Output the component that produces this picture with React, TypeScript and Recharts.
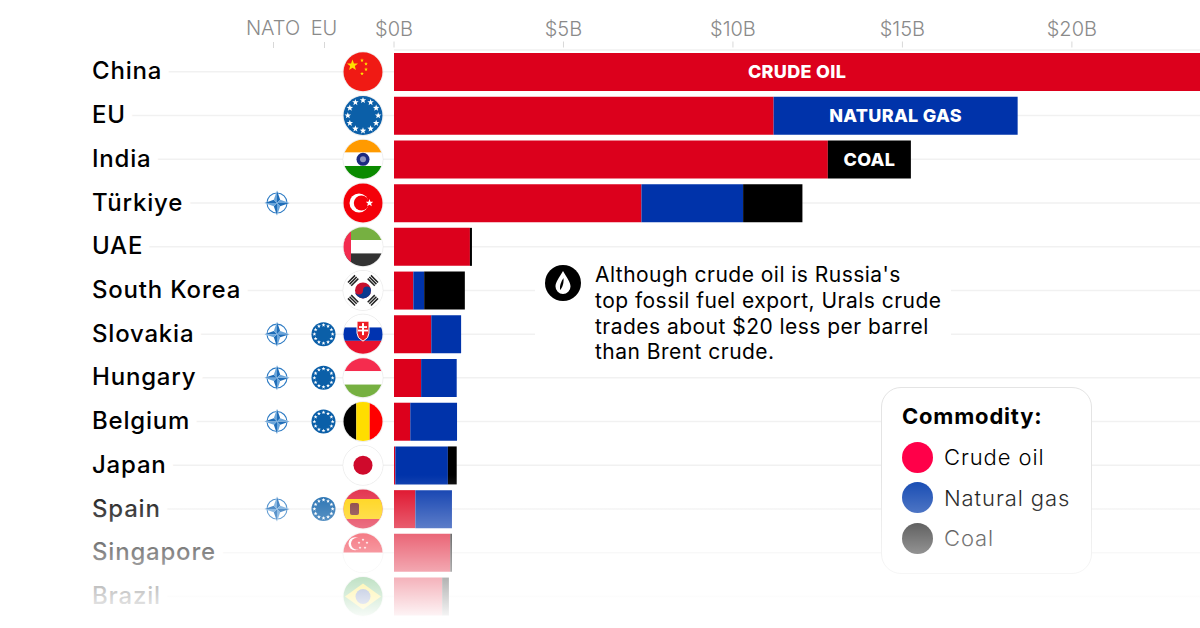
import React from 'react';
import { BarChart, Bar, XAxis, YAxis, CartesianGrid, LabelList, Legend } from 'recharts';

const countries = ['China', 'EU', 'India', 'Türkiye', 'UAE', 'South Korea', 'Slovakia', 'Hungary', 'Belgium', 'Japan', 'Spain', 'Singapore', 'Brazil', ''];
const crude = [23.9, 11.2, 12.8, 7.3, 2.24, 0.57, 1.1, 0.8, 0.48, 0.04, 0.63, 1.66, 1.42, 1.55];
const gas = [0, 7.2, 0, 3.0, 0, 0.32, 0.88, 1.05, 1.38, 1.55, 1.08, 0, 0, 0];
const coal = [0, 0, 2.45, 1.75, 0.06, 1.2, 0, 0, 0, 0.26, 0, 0.05, 0.2, 0];
const crudeLabels = ['CRUDE OIL'];
const gasLabels = ['', 'NATURAL GAS'];
const coalLabels = ['', '', 'COAL'];
const natoMembers = ['Türkiye', 'Slovakia', 'Hungary', 'Belgium', 'Spain'];
const euMembers = ['Slovakia', 'Hungary', 'Belgium', 'Spain'];
const xTicks = [0, 5, 10, 15, 20];
const legendNames = ['Crude oil', 'Natural gas', 'Coal'];
const legendColors = ['#ff0049', '#0f45b0', '#151515'];

const rows = countries.map((name, i) => ({
  name,
  crude: crude[i],
  gas: gas[i],
  coal: coal[i],
  crudeLabel: crudeLabels[i] || undefined,
  gasLabel: gasLabels[i] || undefined,
  coalLabel: coalLabels[i] || undefined,
}));

const FONT = 'Inter, sans-serif';

const starPoints = (cx: number, cy: number, r: number) => {
  const pts = [];
  for (let i = 0; i < 10; i++) {
    const a = -Math.PI / 2 + (i * Math.PI) / 5;
    const rad = i % 2 === 0 ? r : r * 0.42;
    pts.push(`${cx + rad * Math.cos(a)},${cy + rad * Math.sin(a)}`);
  }
  return pts.join(' ');
};

const EuCircle = ({ r }: { r: number }) => (
  <g>
    <circle r={r} fill="#0b5fa8" />
    {Array.from({ length: 12 }).map((_, i) => {
      const a = (i * Math.PI) / 6;
      return <polygon key={i} points={starPoints(r * 0.76 * Math.cos(a), r * 0.76 * Math.sin(a), r * 0.17)} fill="#fff" />;
    })}
  </g>
);

const NatoIcon = () => (
  <g>
    <circle r={10} fill="none" stroke="#2f7cc4" strokeWidth={1.1} />
    <polygon points="0,-12.5 3.4,-3.4 12.5,0 3.4,3.4 0,12.5 -3.4,3.4 -12.5,0 -3.4,-3.4" fill="#fff" />
    <polygon points="0,-12.5 3.2,-3.2 0,0" fill="#1f6db8" />
    <polygon points="12.5,0 3.2,3.2 0,0" fill="#1f6db8" />
    <polygon points="0,12.5 -3.2,3.2 0,0" fill="#1f6db8" />
    <polygon points="-12.5,0 -3.2,-3.2 0,0" fill="#1f6db8" />
    <polygon points="0,-12.5 -3.2,-3.2 0,0" fill="#6aa5da" />
    <polygon points="12.5,0 3.2,-3.2 0,0" fill="#6aa5da" />
    <polygon points="0,12.5 3.2,3.2 0,0" fill="#6aa5da" />
    <polygon points="-12.5,0 -3.2,3.2 0,0" fill="#6aa5da" />
  </g>
);

const flagBody = (name: string) => {
  const R = 20;
  const band = (y: number, h: number, fill: string) => <rect x={-R} y={y} width={R * 2} height={h} fill={fill} />;
  switch (name) {
    case 'China':
      return (
        <g>
          {band(-R, R * 2, '#f01a14')}
          <polygon points={starPoints(-10.5, -6.5, 5.8)} fill="#ffe000" />
          <polygon points={starPoints(-1, -11.5, 2)} fill="#ffe000" />
          <polygon points={starPoints(3, -8, 2)} fill="#ffe000" />
          <polygon points={starPoints(3, -2.5, 2)} fill="#ffe000" />
          <polygon points={starPoints(-1, 1.8, 2)} fill="#ffe000" />
        </g>
      );
    case 'EU':
      return <EuCircle r={R} />;
    case 'India':
      return (
        <g>
          {band(-R, 13.3, '#ff9a00')}
          {band(-6.7, 13.4, '#fff')}
          {band(6.7, 13.3, '#0a8a00')}
          <circle r={6.5} fill="#1c2a80" />
          <circle r={3} fill="#fff" opacity={0.5} />
        </g>
      );
    case 'Türkiye':
      return (
        <g>
          {band(-R, R * 2, '#f40009')}
          <circle cx={-4} r={9.5} fill="#fff" />
          <circle cx={-1.6} r={7.6} fill="#f40009" />
          <polygon points={starPoints(6.5, 0, 4)} fill="#fff" />
        </g>
      );
    case 'UAE':
      return (
        <g>
          {band(-R, 13.3, '#76b041')}
          {band(-6.7, 13.4, '#fff')}
          {band(6.7, 13.3, '#333')}
          <rect x={-R} y={-R} width={8} height={R * 2} fill="#f32b4f" />
        </g>
      );
    case 'South Korea':
      return (
        <g>
          {band(-R, R * 2, '#fff')}
          <circle r={8} fill="#c8102e" />
          <path d="M-8,0 A8,8 0 0,0 8,0 A4,4 0 0,0 0,0 A4,4 0 0,1 -8,0Z" fill="#0b3a8f" />
          {[45, 135, 225, 315].map((a) => (
            <g key={a} transform={`rotate(${a}) translate(0,-14)`}>
              <rect x={-5} y={-3} width={10} height={1.5} fill="#222" />
              <rect x={-5} y={-0.7} width={10} height={1.5} fill="#222" />
              <rect x={-5} y={1.6} width={10} height={1.5} fill="#222" />
            </g>
          ))}
        </g>
      );
    case 'Slovakia':
      return (
        <g>
          {band(-R, 13.3, '#fff')}
          {band(-6.7, 13.4, '#0033b0')}
          {band(6.7, 13.3, '#e8112d')}
          <path d="M-12,-10 L0,-10 L0,2 Q0,7 -6,10 Q-12,7 -12,2Z" transform="translate(6,-3)" fill="#ee1c25" stroke="#fff" strokeWidth={1} />
          <rect x={-1} y={-11} width={2} height={12} fill="#fff" />
          <rect x={-4} y={-8} width={8} height={1.8} fill="#fff" />
          <rect x={-5} y={-4.5} width={10} height={1.8} fill="#fff" />
        </g>
      );
    case 'Hungary':
      return (
        <g>
          {band(-R, 13.3, '#f52c4e')}
          {band(-6.7, 13.4, '#fff')}
          {band(6.7, 13.3, '#76b041')}
        </g>
      );
    case 'Belgium':
      return (
        <g>
          <rect x={-R} y={-R} width={13.3} height={R * 2} fill="#000" />
          <rect x={-6.7} y={-R} width={13.4} height={R * 2} fill="#ffdd00" />
          <rect x={6.7} y={-R} width={13.3} height={R * 2} fill="#ff0000" />
        </g>
      );
    case 'Japan':
      return (
        <g>
          {band(-R, R * 2, '#fff')}
          <circle r={9.5} fill="#cf0a2c" />
        </g>
      );
    case 'Spain':
      return (
        <g>
          {band(-R, R * 2, '#e01f3d')}
          {band(-10, 20, '#ffd000')}
          <rect x={-13} y={-6} width={9} height={12} rx={2} fill="#7a2a2a" />
        </g>
      );
    case 'Singapore':
      return (
        <g>
          {band(-R, R, '#ee2536')}
          {band(0, R, '#fff')}
          <circle cx={-8} cy={-9} r={6.5} fill="#fff" />
          <circle cx={-6} cy={-9} r={6} fill="#ee2536" />
          <polygon points={starPoints(0, -13, 1.5)} fill="#fff" />
          <polygon points={starPoints(4, -10, 1.5)} fill="#fff" />
          <polygon points={starPoints(2, -5, 1.5)} fill="#fff" />
          <polygon points={starPoints(-3, -5, 1.5)} fill="#fff" />
          <polygon points={starPoints(-4, -10, 1.5)} fill="#fff" />
        </g>
      );
    case 'Brazil':
      return (
        <g>
          {band(-R, R * 2, '#2f9e3f')}
          <polygon points="-18,0 0,-13 18,0 0,13" fill="#ffdf00" />
          <circle r={7.5} fill="#1c3f94" />
        </g>
      );
    default:
      return band(-R, R * 2, '#ddd');
  }
};

const CountryTick = (props: any) => {
  const { y, payload } = props;
  const name = payload.value as string;
  const flagX = 363;
  const clipId = `flag-${countries.indexOf(name)}`;
  return (
    <g>
      <line x1={92} x2={394} y1={y} y2={y} stroke="#f1f1f1" strokeWidth={1.5} />
      <text
        x={92}
        y={y - 1}
        dominantBaseline="central"
        fontFamily={FONT}
        fontSize={24}
        fontWeight={500}
        letterSpacing={0.8}
        fill="#000"
        stroke="#fff"
        strokeWidth={18}
        strokeLinejoin="round"
        paintOrder="stroke"
      >
        {name}
      </text>
      {natoMembers.includes(name) && (
        <g transform={`translate(277,${y})`}>
          <NatoIcon />
        </g>
      )}
      {euMembers.includes(name) && (
        <g transform={`translate(323.5,${y})`}>
          <EuCircle r={12} />
        </g>
      )}
      <g transform={`translate(${flagX},${y})`}>
        <circle r={20} fill="#fff" stroke="#e9e9e9" strokeWidth={0.8} />
        <clipPath id={clipId}>
          <circle r={19.5} />
        </clipPath>
        <g clipPath={`url(#${clipId})`}>{flagBody(name)}</g>
      </g>
    </g>
  );
};

const MoneyTick = (props: any) => {
  const { x, payload } = props;
  return (
    <g>
      <line x1={x} x2={x} y1={41.5} y2={47.5} stroke="#d8d8d8" strokeWidth={1} />
      <text x={x} y={36} textAnchor="middle" fontFamily={FONT} fontSize={20} fontWeight={300} fill="#8a8a8a">
        {`$${payload.value}B`}
      </text>
    </g>
  );
};

const CommodityLegend = () => (
  <div
    style={{
      boxSizing: 'border-box',
      width: 211,
      height: 187,
      border: '1.5px solid #e4e4e4',
      borderRadius: 20,
      background: '#fff',
      padding: '14px 0 0 20px',
      fontFamily: FONT,
      textAlign: 'left',
    }}
  >
    <div style={{ fontSize: 22, fontWeight: 700, color: '#000', lineHeight: '28px', marginBottom: 7, letterSpacing: 0.8 }}>Commodity:</div>
    {legendNames.map((n, i) => (
      <div key={n} style={{ display: 'flex', alignItems: 'center', height: 40.5 }}>
        <span style={{ width: 31, height: 31, borderRadius: '50%', background: legendColors[i], marginRight: 11 }} />
        <span style={{ fontSize: 22, fontWeight: 300, color: '#000', letterSpacing: 0.9 }}>{n}</span>
      </div>
    ))}
  </div>
);

const segLabel = { fill: '#fff', fontFamily: FONT, fontSize: 18, fontWeight: 800, letterSpacing: 0.3 };

export default function App() {
  return (
    <div style={{ position: 'absolute', left: 0, top: 0, width: 1200, height: 628, overflow: 'hidden', background: '#fff' }}>
      <BarChart
        width={1200}
        height={680}
        data={rows}
        layout="vertical"
        margin={{ top: 0, right: 0, bottom: 18, left: 0 }}
        barSize={38}
      >
        <CartesianGrid horizontal vertical={false} stroke="#f1f1f1" strokeWidth={1.5} />
        <XAxis
          type="number"
          orientation="top"
          height={50}
          domain={[0, 23.78]}
          allowDataOverflow
          ticks={xTicks}
          interval={0}
          axisLine={false}
          tickLine={false}
          tick={<MoneyTick />}
        />
        <YAxis type="category" dataKey="name" width={394} interval={0} axisLine={false} tickLine={false} tick={<CountryTick />} />
        <Legend
          layout="vertical"
          align="center"
          verticalAlign="middle"
          content={<CommodityLegend />}
          wrapperStyle={{ position: 'absolute', left: 881, top: 387, width: 211, height: 187 }}
        />
        <Bar dataKey="crude" stackId="a" fill="#dc001c" isAnimationActive={false}>
          <LabelList dataKey="crudeLabel" position="center" style={segLabel} />
        </Bar>
        <Bar dataKey="gas" stackId="a" fill="#0033aa" isAnimationActive={false}>
          <LabelList dataKey="gasLabel" position="center" style={segLabel} />
        </Bar>
        <Bar dataKey="coal" stackId="a" fill="#000" isAnimationActive={false}>
          <LabelList dataKey="coalLabel" position="center" style={segLabel} />
        </Bar>
      </BarChart>

      {/* column heads for the membership icons */}
      <div style={{ position: 'absolute', left: 223, width: 100, top: 16, textAlign: 'center', fontFamily: FONT, fontWeight: 300, fontSize: 20, color: '#8a8a8a' }}>NATO</div>
      <div style={{ position: 'absolute', left: 274, width: 100, top: 16, textAlign: 'center', fontFamily: FONT, fontWeight: 300, fontSize: 20, color: '#8a8a8a' }}>EU</div>
      <div style={{ position: 'absolute', left: 273, top: 41.5, width: 1, height: 6, background: '#d8d8d8' }} />
      <div style={{ position: 'absolute', left: 324, top: 41.5, width: 1, height: 6, background: '#d8d8d8' }} />

      {/* callout */}
      <div style={{ position: 'absolute', left: 535, top: 258, width: 416, height: 108, background: '#fff' }} />
      <svg style={{ position: 'absolute', left: 545, top: 265 }} width={36} height={36}>
        <circle cx={18} cy={18} r={18} fill="#000" />
        <path d="M18,6 C14,13 10.5,17 10.5,21.5 A7.5,7.5 0 0,0 25.5,21.5 C25.5,17 22,13 18,6Z" fill="#fff" />
        <path d="M18.5,13 C16,17 14.5,20 15,25 C17,23 19,19 18.5,13Z" fill="#000" />
      </svg>
      <div style={{ position: 'absolute', left: 595, top: 262, fontFamily: FONT, fontSize: 21, letterSpacing: 0.47, lineHeight: '25.8px', color: '#000', whiteSpace: 'nowrap' }}>
        Although crude oil is Russia's
        <br />
        top fossil fuel export, Urals crude
        <br />
        trades about $20 less per barrel
        <br />
        than Brent crude.
      </div>

      {/* fade at the bottom */}
      <div
        style={{
          position: 'absolute',
          left: 0,
          top: 475,
          width: 1200,
          height: 153,
          background: 'linear-gradient(to bottom, rgba(255,255,255,0) 0%, rgba(255,255,255,1) 96%)',
        }}
      />
    </div>
  );
}
